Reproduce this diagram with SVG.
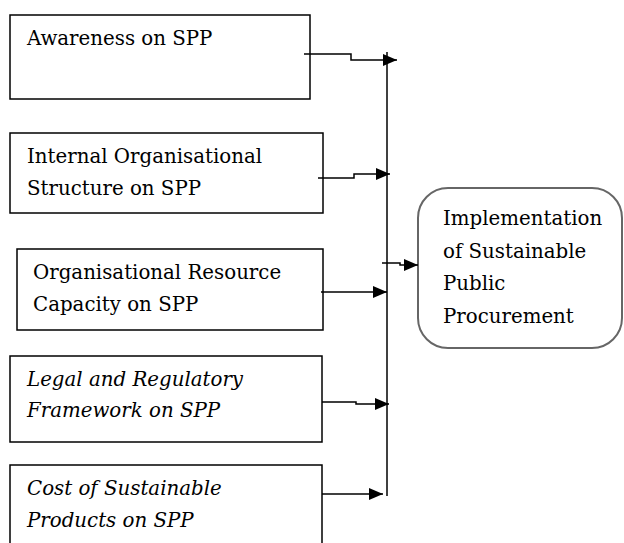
<svg xmlns="http://www.w3.org/2000/svg" width="624" height="543" viewBox="0 0 624 543">
  <defs>
    <style>
      .box { fill: #ffffff; stroke: #000000; stroke-width: 1.5; }
      .target { fill: #ffffff; stroke: #666666; stroke-width: 2; }
      .conn { fill: none; stroke: #000000; stroke-width: 1.5; }
    </style>
    <marker id="arrow" viewBox="0 0 14 12" refX="14" refY="6" markerWidth="14" markerHeight="12" markerUnits="userSpaceOnUse" orient="auto">
      <path d="M0,0 L14,6 L0,12 Z" fill="#000000"/>
    </marker>
  </defs>
  <rect width="624" height="543" fill="#ffffff"/>

  <g font-family="DejaVu Serif, Liberation Serif, serif" font-size="19.8" fill="#000000">
  <g id="node-awareness">
    <rect class="box" x="10" y="15" width="300" height="84"/>
    <text x="27" y="45">Awareness on SPP</text>
  </g>

  <g id="node-internal">
    <rect class="box" x="10" y="133" width="313" height="80"/>
    <text x="27" y="163">Internal Organisational</text>
    <text x="27" y="195">Structure on SPP</text>
  </g>

  <g id="node-resource">
    <rect class="box" x="17" y="249" width="306" height="81"/>
    <text x="33" y="279">Organisational Resource</text>
    <text x="33" y="311">Capacity on SPP</text>
  </g>

  <g id="node-legal">
    <rect class="box" x="10" y="356" width="312" height="86"/>
    <text font-style="italic" x="27" y="386">Legal and Regulatory</text>
    <text font-style="italic" x="27" y="417">Framework on SPP</text>
  </g>

  <g id="node-cost">
    <path class="box" d="M10,545 V465 H322 V545"/>
    <text font-style="italic" x="27" y="495">Cost of Sustainable</text>
    <text font-style="italic" x="27" y="527">Products on SPP</text>
  </g>

  <g id="node-implementation">
    <rect class="target" x="418" y="188" width="204" height="160" rx="30" ry="30"/>
    <text x="443" y="225">Implementation</text>
    <text x="443" y="258">of Sustainable</text>
    <text x="443" y="290">Public</text>
    <text x="443" y="323">Procurement</text>
  </g>
  </g>

  <g id="connectors">
    <line class="conn" x1="387" y1="52" x2="387" y2="496"/>
    <path class="conn" d="M304,54 H351 V60 H397" marker-end="url(#arrow)"/>
    <path class="conn" d="M318,178 H354 V174 H390" marker-end="url(#arrow)"/>
    <path class="conn" d="M321,292 H387" marker-end="url(#arrow)"/>
    <path class="conn" d="M322,402 H356 V404 H389" marker-end="url(#arrow)"/>
    <path class="conn" d="M322,494 H383" marker-end="url(#arrow)"/>
    <path class="conn" d="M382,263 H400 V265 H418" marker-end="url(#arrow)"/>
  </g>
</svg>
